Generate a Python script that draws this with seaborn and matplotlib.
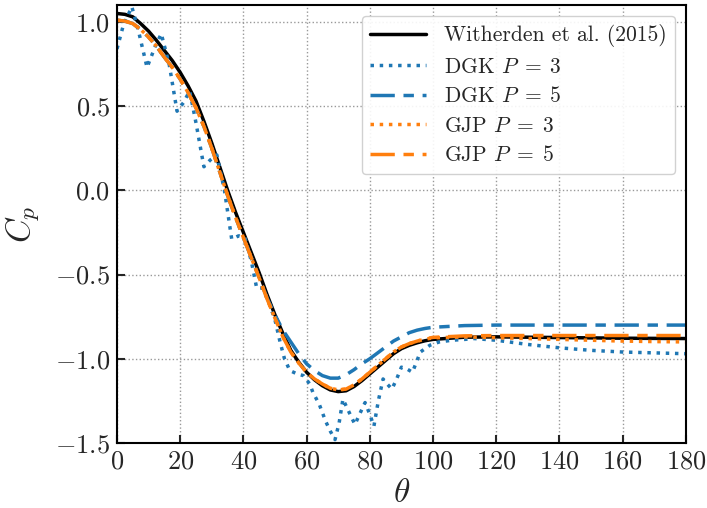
import numpy as np
import pandas as pd
import matplotlib
matplotlib.use("Agg")
import matplotlib.pyplot as plt
import seaborn as sns

# ---------------- data ----------------
theta_smooth = [0, 2.5, 5, 7.5, 10, 12.5, 15, 17.5, 20, 22.5, 25, 27.5, 30, 32.5, 35,
                37.5, 40, 42.5, 45, 47.5, 50, 52.5, 55, 57.5, 60, 62.5, 65, 67.5, 70,
                72.5, 75, 77.5, 80, 82.5, 85, 87.5, 90, 92.5, 95, 97.5, 100,
                110, 120, 130, 140, 150, 160, 170, 180]

cp_witherden = [1.05, 1.045, 1.03, 0.99, 0.945, 0.89, 0.83, 0.77, 0.70, 0.62, 0.53,
                0.41, 0.28, 0.14, 0.00, -0.13, -0.25, -0.37, -0.49, -0.62, -0.74,
                -0.85, -0.95, -1.02, -1.08, -1.125, -1.16, -1.185, -1.195, -1.19,
                -1.165, -1.13, -1.09, -1.05, -1.01, -0.97, -0.94, -0.92, -0.905,
                -0.893, -0.885,
                -0.872, -0.87, -0.872, -0.874, -0.876, -0.878, -0.879, -0.88]

cp_dgk5 = [1.01, 1.005, 0.99, 0.955, 0.91, 0.855, 0.79, 0.73, 0.66, 0.58, 0.49,
           0.38, 0.25, 0.11, -0.03, -0.16, -0.28, -0.40, -0.52, -0.64, -0.74,
           -0.83, -0.90, -0.97, -1.03, -1.07, -1.10, -1.115, -1.115, -1.095,
           -1.065, -1.03, -1.00, -0.965, -0.93, -0.895, -0.87, -0.845, -0.83,
           -0.82, -0.813,
           -0.803, -0.80, -0.80, -0.80, -0.80, -0.80, -0.80, -0.80]

cp_gjp3 = [1.01, 1.005, 0.99, 0.955, 0.91, 0.855, 0.79, 0.73, 0.66, 0.58, 0.49,
           0.38, 0.25, 0.11, -0.03, -0.16, -0.28, -0.40, -0.52, -0.645, -0.76,
           -0.87, -0.96, -1.025, -1.08, -1.12, -1.15, -1.175, -1.185, -1.18,
           -1.155, -1.12, -1.08, -1.04, -1.00, -0.96, -0.93, -0.91, -0.895,
           -0.884, -0.876,
           -0.87, -0.875, -0.88, -0.885, -0.89, -0.895, -0.898, -0.90]

cp_gjp5 = [1.01, 1.005, 0.99, 0.955, 0.91, 0.855, 0.79, 0.73, 0.66, 0.58, 0.49,
           0.38, 0.25, 0.11, -0.03, -0.16, -0.28, -0.40, -0.52, -0.645, -0.76,
           -0.87, -0.96, -1.025, -1.08, -1.12, -1.15, -1.175, -1.185, -1.18,
           -1.155, -1.12, -1.08, -1.04, -1.00, -0.96, -0.93, -0.91, -0.895,
           -0.882, -0.873,
           -0.864, -0.862, -0.862, -0.862, -0.862, -0.862, -0.862, -0.862]

theta_dgk3 = [0, 2, 4.7, 7, 9.5, 12, 14, 16.5, 19, 21, 23, 25, 27.5, 29.5, 31.6, 34,
              36.3, 38.5, 40.5, 42.5, 44.2, 46, 48, 50, 51.6, 53, 54.7, 57, 59, 61,
              62, 64, 66, 67.5, 69, 70.3, 71.5, 73, 75.3, 77, 78.5, 80, 81.3, 82.7,
              84.2, 85.5, 87, 88.5, 90, 91.7, 93.5, 96, 99, 102, 106, 110, 113, 120,
              130, 140, 150, 160, 170, 180]

cp_dgk3 = [0.84, 0.98, 1.09, 0.93, 0.73, 0.85, 0.93, 0.75, 0.47, 0.52, 0.59, 0.40,
           0.14, 0.18, 0.21, 0.00, -0.29, -0.27, -0.28, -0.42, -0.58, -0.58, -0.66,
           -0.77, -0.90, -1.00, -1.07, -1.09, -1.10, -1.15, -1.20, -1.27, -1.37,
           -1.43, -1.48, -1.38, -1.24, -1.30, -1.39, -1.32, -1.26, -1.33, -1.40,
           -1.25, -1.12, -1.15, -1.18, -1.12, -1.05, -1.06, -1.08, -0.96, -0.92,
           -0.90, -0.89, -0.885, -0.88, -0.89, -0.915, -0.935, -0.95, -0.96,
           -0.965, -0.97]

labels = ["Witherden et al. (2015)", r"DGK $P\;=\;3$", r"DGK $P\;=\;5$",
          r"GJP $P\;=\;3$", r"GJP $P\;=\;5$"]
x_ticks = [0, 20, 40, 60, 80, 100, 120, 140, 160, 180]
y_ticks = [-1.5, -1.0, -0.5, 0.0, 0.5, 1.0]

# ---------------- style ----------------
sns.set_style("white")
plt.rcParams["font.family"] = ["cmr10", "DejaVu Serif"]
plt.rcParams["mathtext.fontset"] = "cm"
plt.rcParams["axes.formatter.use_mathtext"] = True
plt.rcParams["axes.unicode_minus"] = True

blue = "#1f77b4"
orange = "#ff7f0e"
lw = 2.5
dashdot = (0, (7, 2.5, 3, 2.5))

fig = plt.figure(figsize=(7.07, 5.08), dpi=100)
ax = fig.add_axes([0.1655, 0.128, 0.8045, 0.862])

series = [
    (theta_smooth, cp_witherden, labels[0], "black", "-"),
    (theta_dgk3, cp_dgk3, labels[1], blue, ":"),
    (theta_smooth, cp_dgk5, labels[2], blue, dashdot),
    (theta_smooth, cp_gjp3, labels[3], orange, ":"),
    (theta_smooth, cp_gjp5, labels[4], orange, dashdot),
]

for th, cp, lab, col, ls in series:
    df = pd.DataFrame({"theta": th, "cp": cp})
    sns.lineplot(data=df, x="theta", y="cp", ax=ax, color=col, lw=lw,
                 linestyle=ls, label=lab, sort=False)

ax.set_xlim(0, 180)
ax.set_ylim(-1.5, 1.1)
ax.set_xticks(x_ticks)
ax.set_yticks(y_ticks)
ax.grid(True, linestyle=":", color="#999999", linewidth=1.0)
ax.tick_params(direction="in", length=6, width=1.5, labelsize=19, pad=5,
               bottom=True, left=True, top=False, right=False)
for sp in ax.spines.values():
    sp.set_linewidth(1.5)
    sp.set_color("black")

ax.set_xlabel(r"$\theta$", fontsize=24, labelpad=4)
ax.set_ylabel(r"$C_p$", fontsize=24, labelpad=10)

leg = ax.legend(loc="upper right", fontsize=15.5, handlelength=2.6,
                labelspacing=0.45, framealpha=0.9, edgecolor="#cccccc",
                fancybox=True, borderaxespad=0.5)

fig.savefig("out.png", dpi=100)
